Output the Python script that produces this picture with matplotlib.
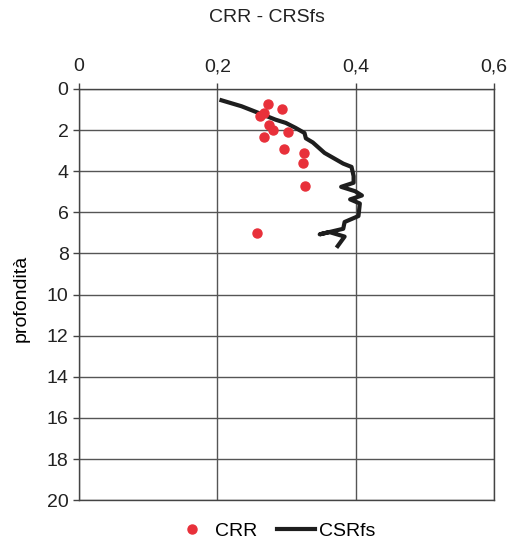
import matplotlib
matplotlib.use("Agg")
import matplotlib.pyplot as plt

crr_x = [0.273, 0.293, 0.262, 0.268, 0.274, 0.281, 0.302, 0.267, 0.296, 0.326, 0.324, 0.327, 0.257]
crr_y = [0.73, 0.97, 1.30, 1.17, 1.73, 1.98, 2.10, 2.35, 2.91, 3.11, 3.58, 4.73, 6.99]

csr_x = [0.206, 0.235, 0.260, 0.284, 0.299, 0.313, 0.326, 0.328, 0.338, 0.355, 0.382, 0.394,
         0.397, 0.397, 0.379, 0.399, 0.409, 0.392, 0.406, 0.404, 0.384, 0.382, 0.348, 0.362,
         0.384, 0.374]
csr_y = [0.55, 0.84, 1.17, 1.49, 1.65, 1.89, 2.14, 2.40, 2.60, 3.11, 3.63, 3.79,
         4.24, 4.56, 4.76, 4.97, 5.18, 5.37, 5.57, 6.18, 6.47, 6.80, 7.07, 6.96,
         7.18, 7.64]

x_ticks = [0, 0.2, 0.4, 0.6]
x_labels = ["0", "0,2", "0,4", "0,6"]
y_ticks = list(range(0, 21, 2))

plt.rcParams['font.family'] = ['Liberation Sans', 'DejaVu Sans']
fig = plt.figure(figsize=(5.13, 5.46), dpi=100)
ax = fig.add_axes([0.154, 0.084, 0.809, 0.753])

ax.plot(crr_x, crr_y, 'o', color='#e8303a', markersize=6.5, label='CRR', zorder=3)
ax.plot(csr_x, csr_y, '-', color='#1e1e1e', linewidth=3, label='CSRfs', zorder=2)

ax.set_xlim(0, 0.6)
ax.set_ylim(20, 0)
ax.xaxis.tick_top()
ax.set_xticks(x_ticks)
ax.set_xticklabels(x_labels)
ax.set_yticks(y_ticks)
ax.tick_params(axis='both', labelsize=14, color='#444', length=4, width=1, colors='#222')
ax.tick_params(axis='x', pad=6)
ax.grid(True, color='#555', linewidth=1)
for s in ax.spines.values():
    s.set_color('#444')
    s.set_linewidth(1)

ax.set_ylabel('profondità', fontsize=14)
ax.yaxis.set_label_coords(-0.12, 0.49)
fig.text(0.52, 0.968, 'CRR - CRSfs', ha='center', va='center', fontsize=14, color='#222')

fig.legend(loc='center', bbox_to_anchor=(0.534, 0.028), ncol=2, frameon=False, fontsize=14,
           handlelength=2.0, columnspacing=1.0, handletextpad=0.2)

fig.savefig('out.png', dpi=100)
